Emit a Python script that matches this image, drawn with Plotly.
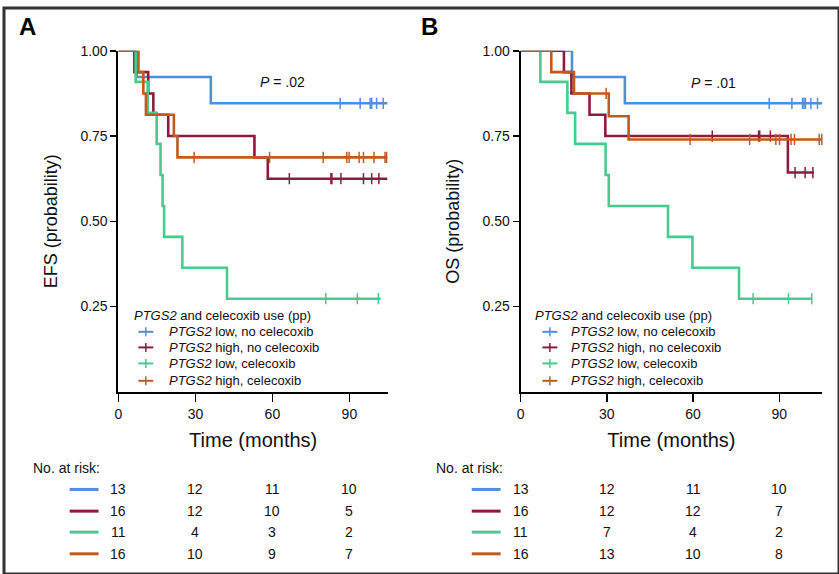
import plotly.graph_objects as go

W, H = 839, 574

# ---------------- data ----------------
risk_times = [0, 30, 60, 90]
tick_vals_y = [0.25, 0.50, 0.75, 1.00]
tick_text_y = ["0.25", "0.50", "0.75", "1.00"]
legend_title = "<i>PTGS2</i> and celecoxib use (pp)"
group_labels = ["<i>PTGS2</i> low, no celecoxib", "<i>PTGS2</i> high, no celecoxib",
                "<i>PTGS2</i> low, celecoxib", "<i>PTGS2</i> high, celecoxib"]
colors = ["#4F8FD8", "#8E1B3F", "#45CC8E", "#C25A1F"]

# Panel A: EFS
efs_low_nocel_times = [7.1, 36.0]
efs_low_nocel_surv = [0.923, 0.846]
efs_low_nocel_cens = [86.4, 94.2, 98.1, 98.7, 100.6, 103.2]
efs_low_nocel_last = 104.8

efs_high_nocel_times = [6.2, 11.6, 13.6, 19.4, 53.0, 58.2]
efs_high_nocel_surv = [0.9375, 0.875, 0.8125, 0.75, 0.6875, 0.625]
efs_high_nocel_cens = [66.6, 82.8, 83.2, 86.7, 95.5, 98.7, 101.5]
efs_high_nocel_last = 104.8

efs_low_cel_times = [6.7, 11.4, 14.9, 16.4, 17.2, 17.8, 24.9, 42.3]
efs_low_cel_surv = [0.909, 0.818, 0.727, 0.636, 0.545, 0.4545, 0.364, 0.273]
efs_low_cel_cens = [80.8, 93.1, 101.3]
efs_low_cel_last = 102.2

efs_high_cel_times = [7.8, 9.7, 10.7, 21.6, 23.0]
efs_high_cel_surv = [0.9375, 0.875, 0.8125, 0.75, 0.6875]
efs_high_cel_cens = [29.5, 58.9, 79.8, 89.0, 89.9, 93.8, 95.5, 99.6, 103.9, 104.5]
efs_high_cel_last = 104.8

# Panel B: OS
os_low_nocel_times = [17.9, 36.3]
os_low_nocel_surv = [0.923, 0.846]
os_low_nocel_cens = [86.5, 94.4, 98.1, 98.6, 99.1, 101.0, 103.3]
os_low_nocel_last = 105.0

os_high_nocel_times = [15.1, 17.7, 24.0, 29.5, 93.0]
os_high_nocel_surv = [0.9375, 0.875, 0.8125, 0.75, 0.643]
os_high_nocel_cens = [66.7, 82.8, 83.2, 86.9, 95.5, 99.0, 101.7]
os_high_nocel_last = 102.1

os_low_cel_times = [6.9, 16.3, 19.0, 29.6, 30.7, 51.3, 59.8, 76.0]
os_low_cel_surv = [0.909, 0.818, 0.727, 0.636, 0.545, 0.4545, 0.364, 0.273]
os_low_cel_cens = [80.9, 93.2, 101.3]
os_low_cel_last = 101.5

os_high_cel_times = [10.7, 18.6, 30.7, 37.6]
os_high_cel_surv = [0.9375, 0.875, 0.808, 0.740]
os_high_cel_cens = [29.8, 59.0, 79.7, 88.8, 90.1, 94.1, 95.3, 103.9, 104.8]
os_high_cel_last = 105.0

# numbers at risk
efs_risk_low_nocel = [13, 12, 11, 10]
efs_risk_high_nocel = [16, 12, 10, 5]
efs_risk_low_cel = [11, 4, 3, 2]
efs_risk_high_cel = [16, 10, 9, 7]

os_risk_low_nocel = [13, 12, 11, 10]
os_risk_high_nocel = [16, 12, 12, 7]
os_risk_low_cel = [11, 7, 4, 2]
os_risk_high_cel = [16, 13, 10, 8]

# ---------------- figure ----------------
FONT = "Liberation Sans, Arial, Helvetica, sans-serif"
TXT = "#111"

panels = [
    dict(xa="x", ya="y", leg=(129, 142.5, 164), risk_lbl=27, risk_line=(66, 95),
         curves=[(efs_low_nocel_times, efs_low_nocel_surv, efs_low_nocel_cens, efs_low_nocel_last),
                 (efs_high_nocel_times, efs_high_nocel_surv, efs_high_nocel_cens, efs_high_nocel_last),
                 (efs_low_cel_times, efs_low_cel_surv, efs_low_cel_cens, efs_low_cel_last),
                 (efs_high_cel_times, efs_high_cel_surv, efs_high_cel_cens, efs_high_cel_last)],
         risk=[efs_risk_low_nocel, efs_risk_high_nocel, efs_risk_low_cel, efs_risk_high_cel]),
    dict(xa="x2", ya="y2", leg=(532, 548.5, 568), risk_lbl=432, risk_line=(470, 499),
         curves=[(os_low_nocel_times, os_low_nocel_surv, os_low_nocel_cens, os_low_nocel_last),
                 (os_high_nocel_times, os_high_nocel_surv, os_high_nocel_cens, os_high_nocel_last),
                 (os_low_cel_times, os_low_cel_surv, os_low_cel_cens, os_low_cel_last),
                 (os_high_cel_times, os_high_cel_surv, os_high_cel_cens, os_high_cel_last)],
         risk=[os_risk_low_nocel, os_risk_high_nocel, os_risk_low_cel, os_risk_high_cel]),
]


def surv_at(t, times, surv):
    s = 1.0
    for ti, si in zip(times, surv):
        if ti <= t:
            s = si
    return s


# vertical layout helper (pixel row from the top -> paper fraction)
V_OFF, V_SCALE = 7.9, 0.986


def px(x):
    return x / W


def py(y):
    return 1 - ((y - V_OFF) / V_SCALE) / H


fig = go.Figure()
for p in panels:
    for i, (times, surv, cens, last) in enumerate(p["curves"]):
        xs = [0] + list(times) + [last]
        ys = [1.0] + list(surv) + [surv[-1]]
        fig.add_trace(go.Scatter(x=xs, y=ys, mode="lines", name=group_labels[i],
                                 line=dict(color=colors[i], width=2.6, shape="hv"),
                                 xaxis=p["xa"], yaxis=p["ya"], showlegend=False, cliponaxis=False,
                                 hoverinfo="skip"))
        fig.add_trace(go.Scatter(x=cens, y=[surv_at(c, times, surv) for c in cens], mode="markers",
                                 name=group_labels[i] + " (censored)",
                                 marker=dict(symbol="line-ns-open", size=8, color=colors[i],
                                             line=dict(color=colors[i], width=1.5)),
                                 xaxis=p["xa"], yaxis=p["ya"], showlegend=False, cliponaxis=False))

ydom = [py(391.7), py(50.7)]
xdomA = [px(115), px(385.7)]
xdomB = [px(519), px(822.3)]

common_x = dict(range=[0, 105], tickvals=risk_times, ticks="outside", ticklen=8, tickwidth=1.5,
                tickcolor="black", showline=True, linecolor="black", linewidth=2, showgrid=False,
                zeroline=False, tickfont=dict(size=14, color=TXT, family=FONT),
                title=dict(text="Time (months)", font=dict(size=20, color=TXT, family=FONT), standoff=12))
common_y = dict(range=[0, 1], tickvals=tick_vals_y, ticktext=tick_text_y, ticks="outside", ticklen=6,
                tickwidth=1.5, tickcolor="black", showline=True, linecolor="black", linewidth=2,
                showgrid=False, zeroline=False, tickfont=dict(size=14, color=TXT, family=FONT))

fig.update_layout(
    width=W, height=H, margin=dict(l=0, r=0, t=0, b=0),
    paper_bgcolor="white", plot_bgcolor="white", showlegend=False,
    font=dict(family=FONT, color=TXT),
    xaxis=dict(domain=xdomA, anchor="y", **common_x),
    yaxis=dict(domain=ydom, anchor="x", title=dict(text="EFS (probability)", font=dict(size=18, color=TXT, family=FONT), standoff=18), **common_y),
    xaxis2=dict(domain=xdomB, anchor="y2", **common_x),
    yaxis2=dict(domain=ydom, anchor="x2", title=dict(text="OS (probability)", font=dict(size=18, color=TXT, family=FONT), standoff=18), **common_y),
)

annotations = []
shapes = []

# panel letters
for letter, lx in [("A", 24), ("B", 428)]:
    annotations.append(dict(text="<b>%s</b>" % letter, x=px(lx), y=py(26.5), xref="paper", yref="paper",
                            xanchor="center", yanchor="middle", showarrow=False,
                            font=dict(size=24, color="black", family=FONT)))
# P values
annotations.append(dict(text="<i>P</i> = .02", x=64, y=0.909, xref="x", yref="y", showarrow=False,
                        xanchor="center", yanchor="middle", font=dict(size=14, color=TXT, family=FONT)))
annotations.append(dict(text="<i>P</i> = .01", x=67, y=0.906, xref="x2", yref="y2", showarrow=False,
                        xanchor="center", yanchor="middle", font=dict(size=14, color=TXT, family=FONT)))

# legends (drawn in each panel)
leg_title_y = 315
leg_item_y = [331.7, 347.3, 363.3, 380.7]
for p in panels:
    tx, sx, ix = p["leg"]
    annotations.append(dict(text=legend_title, x=px(tx), y=py(leg_title_y), xref="paper", yref="paper",
                            xanchor="left", yanchor="middle", showarrow=False,
                            font=dict(size=13, color=TXT, family=FONT)))
    for i, lbl in enumerate(group_labels):
        yy = leg_item_y[i]
        shapes.append(dict(type="line", xref="paper", yref="paper", x0=px(sx - 7.5), x1=px(sx + 7.5),
                           y0=py(yy), y1=py(yy), line=dict(color=colors[i], width=2)))
        shapes.append(dict(type="line", xref="paper", yref="paper", x0=px(sx), x1=px(sx),
                           y0=py(yy - 4.5), y1=py(yy + 4.5), line=dict(color=colors[i], width=1.5)))
        annotations.append(dict(text=lbl, x=px(ix), y=py(yy), xref="paper", yref="paper",
                                xanchor="left", yanchor="middle", showarrow=False,
                                font=dict(size=13, color=TXT, family=FONT)))

# numbers at risk
row_y = [489.3, 511, 532, 553.7]
for p in panels:
    annotations.append(dict(text="No. at risk:", x=px(p["risk_lbl"]), y=py(468), xref="paper", yref="paper",
                            xanchor="left", yanchor="middle", showarrow=False,
                            font=dict(size=14, color=TXT, family=FONT)))
    l0, l1 = p["risk_line"]
    for i, counts in enumerate(p["risk"]):
        yy = py(row_y[i])
        shapes.append(dict(type="line", xref="paper", yref="paper", x0=px(l0), x1=px(l1), y0=yy, y1=yy,
                           line=dict(color=colors[i], width=3)))
        for t, n in zip(risk_times, counts):
            annotations.append(dict(text=str(n), x=t, y=yy, xref=p["xa"], yref="paper", showarrow=False,
                                    xanchor="center", yanchor="middle",
                                    font=dict(size=14, color=TXT, family=FONT)))

shapes.append(dict(type="rect", xref="paper", yref="paper", x0=0, x1=1, y0=0, y1=1,
                   line=dict(color="#333", width=3)))

fig.update_layout(annotations=annotations, shapes=shapes)
fig.write_html(
    "out.html",
    config={"displayModeBar": False, "staticPlot": True},
    post_script=("document.documentElement.style.margin='0';document.body.style.margin='0';"
                 "document.body.style.padding='0';document.body.style.overflow='hidden';"
                 "var gd=document.getElementById('{plot_id}');gd.style.position='fixed';"
                 "gd.style.top='0px';gd.style.left='0px';"),
)
